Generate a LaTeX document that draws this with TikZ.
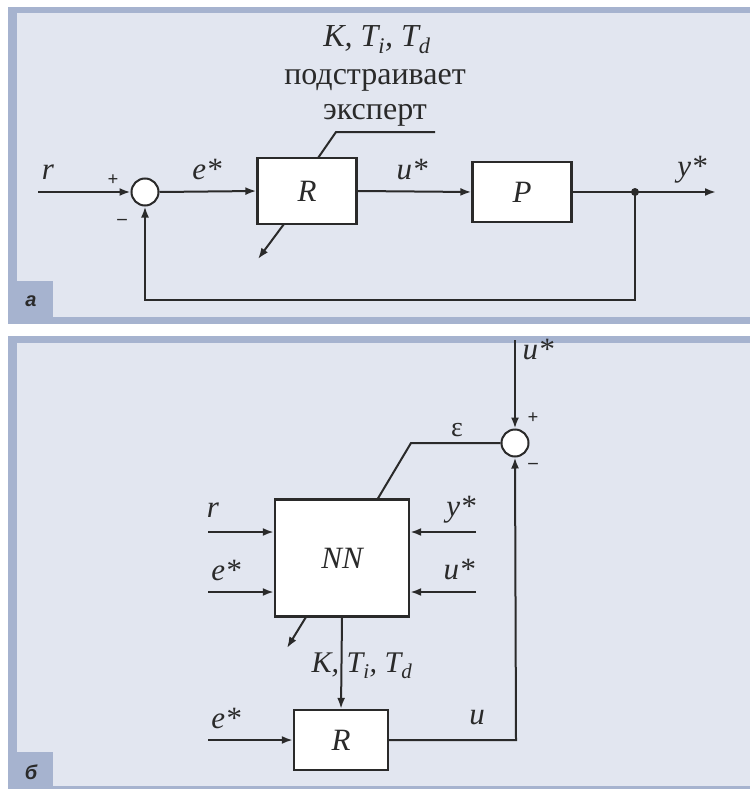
\documentclass[tikz,border=0pt]{standalone}
\usepackage{fontspec}
\setmainfont{Liberation Serif}
\newfontfamily\labfont{Liberation Sans}
\usetikzlibrary{arrows.meta}
\definecolor{panelfill}{HTML}{E2E6F0}
\definecolor{panelborder}{HTML}{A6B3CF}
\definecolor{ink}{HTML}{2A2A2A}
\begin{document}
\begin{tikzpicture}[x=1pt,y=-1pt,
  blk/.style={draw=ink,fill=white,line width=2.4pt,inner sep=0pt},
  sumj/.style={circle,draw=ink,fill=white,line width=2pt,minimum size=27pt,inner sep=0pt},
  wire/.style={draw=ink,line width=2pt},
  arr/.style={wire,-{Latex[length=11pt,width=8pt]}},
  lbl/.style={font=\fontsize{31}{33}\selectfont\itshape,text=ink,inner sep=0pt},
  txt/.style={font=\fontsize{32}{34}\selectfont,text=ink,inner sep=0pt},
  sgn/.style={font=\fontsize{19}{19}\selectfont\bfseries,text=ink,inner sep=0pt},
  tagbox/.style={fill=panelborder},
  tagtxt/.style={font=\labfont\bfseries\itshape\fontsize{20}{20}\selectfont,text=ink,inner sep=0pt}
]
\useasboundingbox (0,0) rectangle (750,789);
\fill[white] (0,0) rectangle (750,789);
% panel a
\fill[panelborder] (8,7) rectangle (750,324);
\fill[panelfill] (17,13) rectangle (750,317);
\fill[tagbox] (17,281) rectangle (53,317);
\node[tagtxt] (taga) at (31,301) {а};
% panel b
\fill[panelborder] (8,336) rectangle (750,789);
\fill[panelfill] (17,343) rectangle (750,786);
\fill[tagbox] (17,752) rectangle (53,789);
\node[tagtxt] (tagb) at (31,772) {б};

% ---------- panel a ----------
\node[txt] (kt) at (377,40) {\itshape K, T\textsubscript{\itshape i}, T\textsubscript{\itshape d}};
\node[txt] (pod) at (375,80) {подстраивает};
\node[txt] (eksp) at (375,115) {эксперт};
\coordinate (rin) at (38,192);
\node[sumj] (s1) at (145,192) {};
\node[blk,minimum width=99pt,minimum height=66pt] (R1) at (307,191) {};
\node[lbl] at (R1) {R};
\node[blk,minimum width=99pt,minimum height=60pt] (P1) at (522,192) {};
\node[lbl] at (P1) {P};
\coordinate (yout) at (716,192);
\coordinate (br) at (635,192);
\coordinate (fb1) at (635,300);
\coordinate (fb2) at (145,300);
\coordinate (ex1) at (435,132);
\coordinate (ex2) at (336,132);
\coordinate (exR) at (318,158);
\coordinate (adj1a) at (284,224);
\coordinate (adj1b) at (258,259);

\draw[arr] (rin) -- (s1.west);
\draw[arr] (s1.east) -- (R1.west);
\draw[arr] (R1.east) -- (P1.west);
\draw[arr] (P1.east) -- (yout);
\fill[ink] (br) circle (4pt);
\draw[arr] (br) -- (fb1) -- (fb2) -- (s1.south);
\draw[wire] (ex1) -- (ex2) -- (exR);
\draw[arr] (adj1a) -- (adj1b);

\node[lbl] at (48,172) {r};
\node[sgn] at (113,180) {+};
\node[sgn] at (122,222) {\textendash};
\node[lbl] at (207,170) {e*};
\node[lbl] at (412,170) {u*};
\node[lbl] at (692,170) {y*};

% ---------- panel b ----------
\coordinate (ustar) at (515,340);
\node[sumj] (s2) at (515,443) {};
\node[blk,minimum width=134pt,minimum height=117pt] (NN) at (342,558) {};
\node[lbl] at (NN) {NN};
\node[blk,minimum width=94pt,minimum height=60pt] (R2) at (341,740) {};
\node[lbl] at (R2) {R};
\coordinate (eps1) at (411,443);
\coordinate (epsNN) at (377,500);
\coordinate (rin2) at (208,532);
\coordinate (ein2) at (208,592);
\coordinate (yin2) at (476,532);
\coordinate (uin2) at (476,592);
\coordinate (ein3) at (208,740);
\coordinate (ucorner) at (516,740);
\coordinate (adj2a) at (306,617);
\coordinate (adj2b) at (287,648);

\draw[arr] (ustar) -- (s2.north);
\draw[wire] (s2.west) -- (eps1) -- (epsNN);
\draw[arr] (rin2) -- (rin2 -| NN.west);
\draw[arr] (ein2) -- (ein2 -| NN.west);
\draw[arr] (yin2) -- (yin2 -| NN.east);
\draw[arr] (uin2) -- (uin2 -| NN.east);
\draw[arr] (NN.south) -- (R2.north);
\draw[arr] (adj2a) -- (adj2b);
\draw[arr] (ein3) -- (R2.west);
\draw[arr] (R2.east) -- (ucorner) -- (s2.south);

\node[lbl] at (538,350) {u*};
\node[sgn] at (533,418) {+};
\node[sgn] at (533,466) {\textendash};
\node[font=\fontsize{28}{28}\selectfont,text=ink,inner sep=0pt] at (457,430) {ε};
\node[lbl] at (213,510) {r};
\node[lbl] at (226,570) {e*};
\node[lbl] at (461,510) {y*};
\node[lbl] at (459,570) {u*};
\node[txt,font=\fontsize{30}{32}\selectfont] at (362,666) {\itshape K, T\textsubscript{\itshape i}, T\textsubscript{\itshape d}};
\node[lbl] at (226,718) {e*};
\node[lbl] at (477,718) {u};
\end{tikzpicture}
\end{document}
